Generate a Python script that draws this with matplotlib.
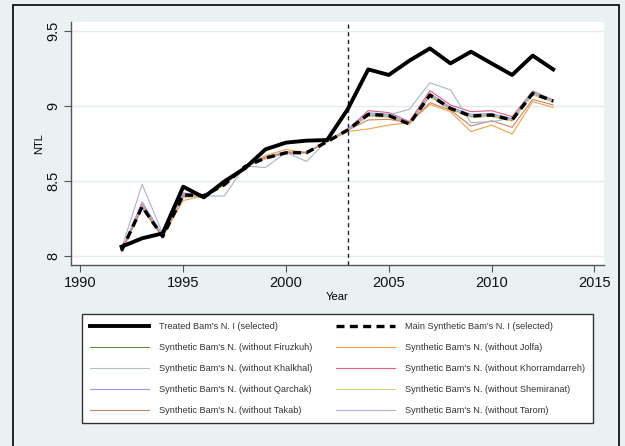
import matplotlib
matplotlib.use("Agg")
import matplotlib.pyplot as plt
from matplotlib.lines import Line2D
from matplotlib.patches import Rectangle

plt.rcParams['font.family'] = ['Liberation Sans', 'DejaVu Sans']

years = list(range(1992, 2014))

treated = [8.062, 8.118, 8.151, 8.462, 8.391, 8.497, 8.585, 8.711, 8.756, 8.769, 8.773,
           8.978, 9.244, 9.207, 9.302, 9.384, 9.284, 9.362, 9.284, 9.207, 9.336, 9.244]
main_synth = [8.035, 8.329, 8.129, 8.407, 8.402, 8.475, 8.596, 8.653, 8.688, 8.689, 8.762,
              8.840, 8.944, 8.936, 8.880, 9.073, 8.984, 8.933, 8.940, 8.907, 9.084, 9.033]

firuzkuh = [8.030, 8.320, 8.125, 8.405, 8.400, 8.475, 8.595, 8.650, 8.685, 8.688, 8.760,
            8.838, 8.940, 8.932, 8.878, 9.068, 8.980, 8.930, 8.936, 8.902, 9.080, 9.028]
jolfa = [8.040, 8.330, 8.130, 8.370, 8.400, 8.480, 8.600, 8.670, 8.710, 8.690, 8.760,
         8.830, 8.847, 8.873, 8.889, 9.011, 8.962, 8.829, 8.873, 8.813, 9.029, 8.991]
khalkhal = [8.035, 8.345, 8.130, 8.400, 8.405, 8.478, 8.598, 8.655, 8.690, 8.692, 8.765,
            8.842, 8.948, 8.940, 8.882, 9.078, 8.988, 8.938, 8.944, 8.910, 9.088, 9.036]
khorramdarreh = [8.032, 8.340, 8.128, 8.420, 8.405, 8.478, 8.598, 8.652, 8.688, 8.690, 8.765,
                 8.845, 8.969, 8.956, 8.896, 9.102, 9.007, 8.962, 8.969, 8.929, 9.100, 9.040]
qarchak = [8.040, 8.360, 8.140, 8.415, 8.410, 8.482, 8.600, 8.660, 8.695, 8.690, 8.765,
           8.845, 8.955, 8.945, 8.885, 9.085, 8.992, 8.945, 8.950, 8.915, 9.092, 9.040]
shemiranat = [8.038, 8.335, 8.135, 8.395, 8.398, 8.470, 8.592, 8.648, 8.690, 8.688, 8.760,
              8.836, 8.930, 8.925, 8.880, 9.060, 8.975, 8.925, 8.930, 8.898, 9.075, 9.025]
takab = [8.035, 8.330, 8.130, 8.400, 8.400, 8.475, 8.595, 8.655, 8.690, 8.690, 8.762,
         8.838, 8.907, 8.911, 8.889, 9.022, 8.973, 8.867, 8.902, 8.858, 9.044, 9.007]
tarom = [8.050, 8.478, 8.150, 8.390, 8.400, 8.400, 8.600, 8.590, 8.690, 8.630, 8.770,
         8.840, 8.940, 8.940, 8.978, 9.155, 9.107, 8.889, 8.895, 8.920, 9.096, 9.030]

treatment_year = 2003
x_ticks = [1990, 1995, 2000, 2005, 2010, 2015]
y_ticks = [8, 8.5, 9, 9.5]
y_tick_labels = ['8', '8.5', '9', '9.5']

label_treated = "Treated Bam's N. I (selected)"
label_main = "Main Synthetic Bam's N. I (selected)"
placebo = [
    ("Synthetic Bam's N. (without Firuzkuh)", firuzkuh, '#66894C'),
    ("Synthetic Bam's N. (without Jolfa)", jolfa, '#F5A043'),
    ("Synthetic Bam's N. (without Khalkhal)", khalkhal, '#AFC6BE'),
    ("Synthetic Bam's N. (without Khorramdarreh)", khorramdarreh, '#E0607E'),
    ("Synthetic Bam's N. (without Qarchak)", qarchak, '#A092EE'),
    ("Synthetic Bam's N. (without Shemiranat)", shemiranat, '#DCCB80'),
    ("Synthetic Bam's N. (without Takab)", takab, '#C8846C'),
    ("Synthetic Bam's N. (without Tarom)", tarom, '#A8B4C9'),
]

W, H = 625, 446
bg = '#EAF1F3'
fig = plt.figure(figsize=(W / 100, H / 100), dpi=100, facecolor=bg)

# outer frame
fig.patches.append(Rectangle((13 / W, -0.05), (619 - 13) / W, 1.05 - 5 / H,
                             transform=fig.transFigure, fill=False,
                             edgecolor='black', linewidth=1.2, zorder=0))

ax = fig.add_axes([71 / W, 1 - 265 / H, (604 - 71) / W, (265 - 22) / H])
ax.set_facecolor('white')

for _, vals, col in placebo:
    ax.plot(years, vals, color=col, linewidth=0.8, zorder=3)
ax.plot(years, main_synth, color='black', linewidth=2.4, linestyle=(0, (2.4, 1.6)), zorder=4)
ax.plot(years, treated, color='black', linewidth=2.8, zorder=5)

ax.axvline(treatment_year, color='#222222', linewidth=1.0, linestyle=(0, (3, 2.5)), zorder=2)

ax.set_xlim(1989.54, 2015.47)
ax.set_ylim(7.94, 9.56)
ax.set_xticks(x_ticks)
ax.set_yticks(y_ticks)
ax.set_yticklabels(y_tick_labels, rotation=90, va='center')
ax.grid(axis='y', color='#E3ECEF', linewidth=1.0, zorder=1)
ax.set_axisbelow(True)

for s in ['top', 'right']:
    ax.spines[s].set_visible(False)
for s in ['left', 'bottom']:
    ax.spines[s].set_color('#555555')
    ax.spines[s].set_linewidth(1.0)
ax.tick_params(axis='both', direction='out', length=5, width=0.8, color='#555555',
               labelsize=10.5, labelcolor='#111111', pad=3)

ax.set_xlabel('Year', fontsize=8, labelpad=1)
ax.set_ylabel('NTL', fontsize=8, labelpad=1)

# legend in two columns, row-wise order
handles = [
    Line2D([], [], color='black', linewidth=2.8),
    Line2D([], [], color='black', linewidth=2.4, linestyle=(0, (2.4, 1.6))),
]
labels = [label_treated, label_main]
for lab, _, col in placebo:
    handles.append(Line2D([], [], color=col, linewidth=0.8))
    labels.append(lab)

ordered_h = handles[0::2] + handles[1::2]
ordered_l = labels[0::2] + labels[1::2]

leg = fig.legend(ordered_h, ordered_l, ncol=2, loc='center',
                 bbox_to_anchor=(82 / W, 1 - 425 / H, (593 - 82) / W, (425 - 312) / H),
                 mode='expand', fontsize=6.6, frameon=True, fancybox=False,
                 edgecolor='#333333', facecolor='white', framealpha=1,
                 handlelength=6.4, handletextpad=1.1, labelspacing=1.3,
                 borderpad=0.9, borderaxespad=0, columnspacing=1.0)
leg.get_frame().set_linewidth(1.0)
for t in leg.get_texts():
    t.set_color('#333333')

fig.savefig('out.png', dpi=100, facecolor=bg)
